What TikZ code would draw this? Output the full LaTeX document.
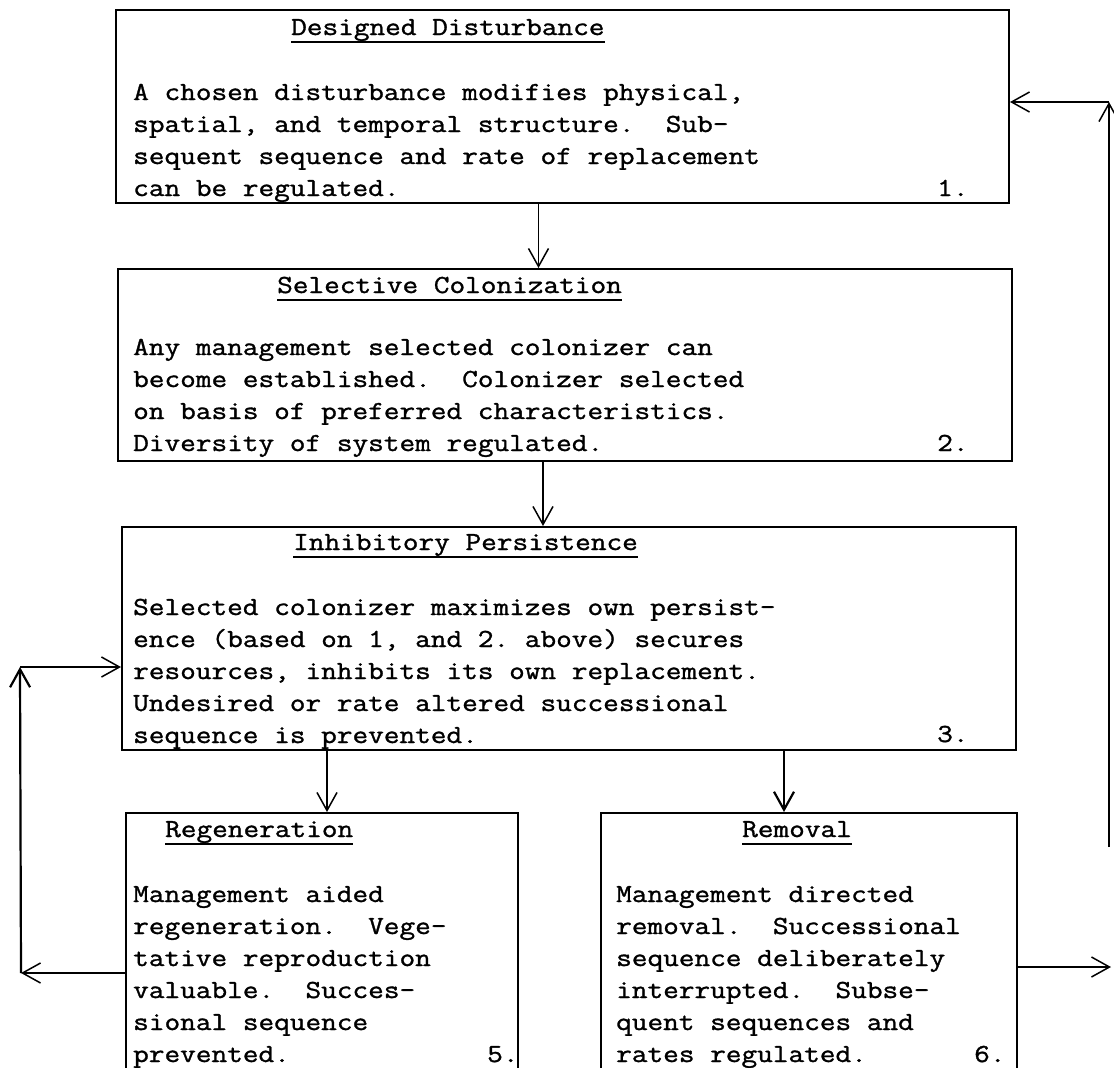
\documentclass[tikz,border=0pt]{standalone}
\usepackage{fontspec}
\setmonofont{Latin Modern Mono}[FakeStretch=1.17, FakeBold=1.2]
\usepackage{tikz}
\usetikzlibrary{arrows.meta}
\newcommand{\typed}{\ttfamily\fontsize{26}{32}\selectfont}
\tikzstyle{panel}=[rectangle, draw=black, line width=2pt, inner sep=0pt]
\tikzstyle{heading}=[font=\typed, inner sep=0pt, anchor=base west]
\tikzstyle{body}=[heading, align=left]
\tikzstyle{uline}=[draw, line width=1.6pt]
\tikzstyle{flow}=[draw, line width=1.5pt, -{Straight Barb[length=18pt, width=20pt]}]

\begin{document}
\begin{tikzpicture}[x=1pt, y=-1pt]
\useasboundingbox (0,0) rectangle (1114,1068);
\fill[white] (0,0) rectangle (1114,1068);
\clip (0,0) rectangle (1114,1068);

				\node[panel, minimum width=893, minimum height=193] (box_1) at (562.5, 106.5) {};
				\node[panel, minimum width=894, minimum height=192] (box_2) at (565, 365) {};
				\node[panel, minimum width=894, minimum height=223] (box_3) at (569, 638.5) {};
				\node[panel, minimum width=392, minimum height=267] (box_5) at (322, 946.5) {};
				\node[panel, minimum width=416, minimum height=267] (box_6) at (809, 946.5) {};

				\node[heading] (head_1) at (291, 35) {Designed Disturbance};
				\node[heading] (head_2) at (277, 293) {Selective Colonization};
				\node[heading] (head_3) at (293, 550) {Inhibitory Persistence};
				\node[heading] (head_5) at (165, 837) {Regeneration};
				\node[heading] (head_6) at (742, 837) {Removal};

				\foreach \i in {1,2,3,5,6}
					\draw[uline] ([yshift=-7pt]head_\i.base west) -- ([yshift=-7pt]head_\i.base east);

				% body texts sit on the baseline of their last line
				\node[body] (text_1) at (133, 196) {A chosen disturbance modifies physical,\\
					spatial, and temporal structure.\ \ Sub-\\
					sequent sequence and rate of replacement\\
					can be regulated.};
				\node[body] (text_2) at (133, 451) {Any management selected colonizer can\\
					become established.\ \ Colonizer selected\\
					on basis of preferred characteristics.\\
					Diversity of system regulated.};
				\node[body] (text_3) at (133, 743) {Selected colonizer maximizes own persist-\\
					ence (based on 1, and 2. above) secures\\
					resources, inhibits its own replacement.\\
					Undesired or rate altered successional\\
					sequence is prevented.};
				\node[body] (text_5) at (133, 1062) {Management aided\\
					regeneration.\ \ Vege-\\
					tative reproduction\\
					valuable.\ \ Succes-\\
					sional sequence\\
					prevented.};
				\node[body] (text_6) at (616, 1062) {Management directed\\
					removal.\ \ Successional\\
					sequence deliberately\\
					interrupted.\ \ Subse-\\
					quent sequences and\\
					rates regulated.};

				\node[heading] (num_1) at (937, 196) {1.};
				\node[heading] (num_2) at (937, 451) {2.};
				\node[heading] (num_3) at (937, 742) {3.};
				\node[heading] (num_5) at (487, 1062) {5.};
				\node[heading] (num_6) at (974, 1062) {6.};

				% downward flow
				\draw[flow] ([xshift=-24pt]box_1.south) -- ([xshift=-24pt]box_1.south |- box_2.north);
				\draw[flow] ([xshift=-22pt]box_2.south) -- ([xshift=-22pt]box_2.south |- box_3.north);
				\draw[flow] ([xshift=5pt]box_5.north |- box_3.south) -- ([xshift=5pt]box_5.north);
				\draw[flow, line width=2.2pt] ([xshift=-25pt]box_6.north |- box_3.south) -- ([xshift=-25pt]box_6.north);

				% feedback loops
				\coordinate (left_1) at (21, 973);
				\coordinate (left_2) at (20, 667);
				\coordinate (right_1) at (1109, 847);
				\coordinate (right_2) at (1109, 102);
				\coordinate (right_3) at (1111, 967);

				\draw[flow] (left_1 -| box_5.west) -- (left_1);
				\draw[flow, line width=2.2pt] (left_1) -- (left_2);
				\draw[flow] (left_2) -- (left_2 -| box_3.west);
				\draw[flow] (right_1) -- (right_2);
				\draw[flow] (right_2) -- (right_2 -| box_1.east);
				\draw[flow] (right_3 -| box_6.east) -- (right_3);
\end{tikzpicture}
\end{document}
